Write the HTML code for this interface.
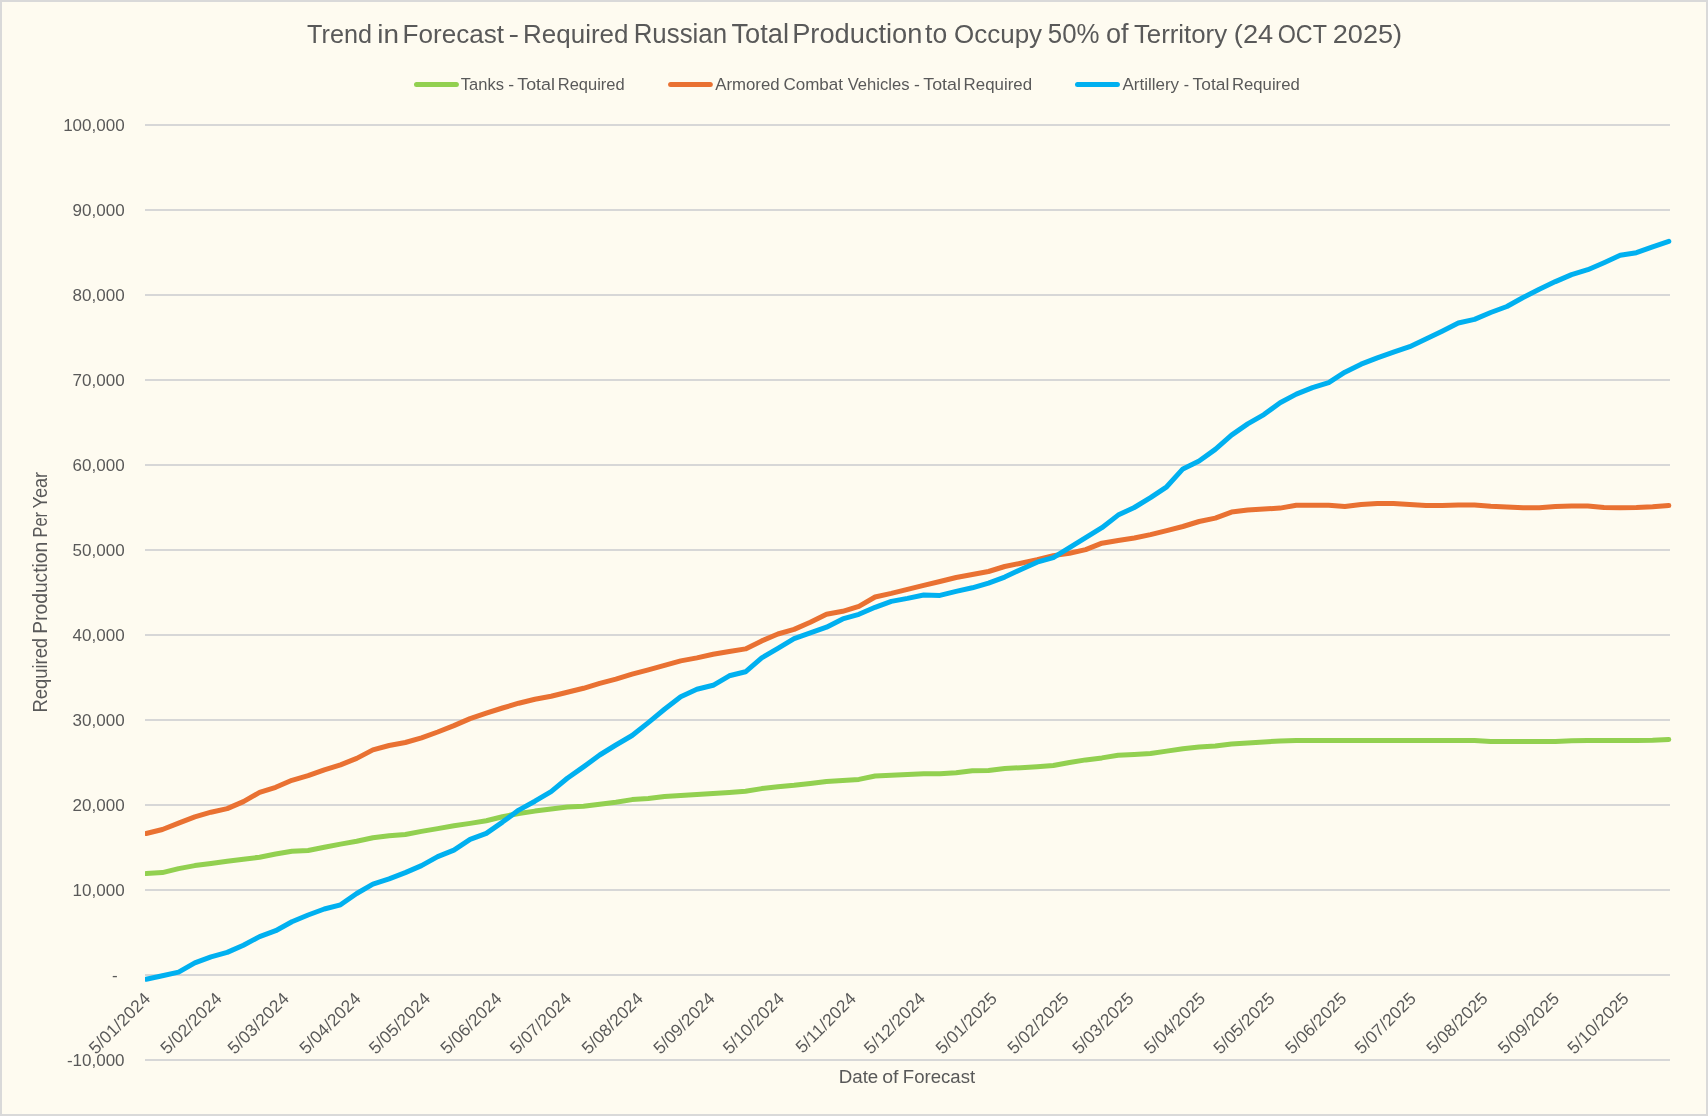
<!DOCTYPE html>
<html><head><meta charset="utf-8"><title>Trend in Forecast</title>
<style>
html,body{margin:0;padding:0;background:#FEFBF0;}
svg{display:block;will-change:transform;}
text{font-family:"Liberation Sans",sans-serif;fill:#595959;}
</style></head><body>
<svg width="1708" height="1116" viewBox="0 0 1708 1116">
<rect x="0" y="0" width="1708" height="1116" fill="#FEFBF0"/>
<rect x="1" y="1" width="1706" height="1114" fill="none" stroke="#D9D9D9" stroke-width="2"/>
<g id="title">
<text font-size="26.7" transform="translate(307.03,42.7) scale(0.9444,1)">Trend</text>
<text font-size="26.7" transform="translate(377.37,42.7) scale(1.0435,1)">in</text>
<text font-size="26.7" transform="translate(402.50,42.7) scale(0.9778,1)">Forecast</text>
<text font-size="26.7" transform="translate(508.62,42.7) scale(1.1846,1)">-</text>
<text font-size="26.7" transform="translate(523.11,42.7) scale(0.9727,1)">Required</text>
<text font-size="26.7" transform="translate(633.72,42.7) scale(0.9676,1)">Russian</text>
<text font-size="26.7" transform="translate(731.39,42.7) scale(1.0204,1)">Total</text>
<text font-size="26.7" transform="translate(792.20,42.7) scale(1.0202,1)">Production</text>
<text font-size="26.7" transform="translate(925.10,42.7) scale(0.9928,1)">to</text>
<text font-size="26.7" transform="translate(954.08,42.7) scale(0.9730,1)">Occupy</text>
<text font-size="26.7" transform="translate(1047.79,42.7) scale(0.9678,1)">50%</text>
<text font-size="26.7" transform="translate(1106.03,42.7) scale(1.0143,1)">of</text>
<text font-size="26.7" transform="translate(1133.92,42.7) scale(0.9671,1)">Territory</text>
<text font-size="26.7" transform="translate(1233.82,42.7) scale(1.0194,1)">(24</text>
<text font-size="26.7" transform="translate(1277.71,42.7) scale(0.8734,1)">OCT</text>
<text font-size="26.7" transform="translate(1332.73,42.7) scale(1.0161,1)">2025)</text>
</g>
<g id="legend">
<line x1="416.5" y1="84.5" x2="456.4" y2="84.5" stroke="#92D050" stroke-width="5" stroke-linecap="round"/>
<line x1="670.6" y1="84.5" x2="710.3" y2="84.5" stroke="#E97132" stroke-width="5" stroke-linecap="round"/>
<line x1="1077.5" y1="84.5" x2="1117.4" y2="84.5" stroke="#00B0F0" stroke-width="5" stroke-linecap="round"/>
<text font-size="17.0" transform="translate(460.81,89.9) scale(0.9711,1)">Tanks</text>
<text font-size="17.0" transform="translate(508.22,89.9) scale(1.0353,1)">-</text>
<text font-size="17.0" transform="translate(517.27,89.9) scale(1.0511,1)">Total</text>
<text font-size="17.0" transform="translate(557.74,89.9) scale(0.9714,1)">Required</text>
<text font-size="17.0" transform="translate(715.20,89.9) scale(0.9891,1)">Armored</text>
<text font-size="17.0" transform="translate(783.45,89.9) scale(0.9991,1)">Combat</text>
<text font-size="17.0" transform="translate(847.66,89.9) scale(0.9776,1)">Vehicles</text>
<text font-size="17.0" transform="translate(913.92,89.9) scale(1.0353,1)">-</text>
<text font-size="17.0" transform="translate(923.28,89.9) scale(1.0482,1)">Total</text>
<text font-size="17.0" transform="translate(963.61,89.9) scale(0.9925,1)">Required</text>
<text font-size="17.0" transform="translate(1122.40,89.9) scale(1.0018,1)">Artillery</text>
<text font-size="17.0" transform="translate(1183.69,89.9) scale(0.9412,1)">-</text>
<text font-size="17.0" transform="translate(1192.59,89.9) scale(1.0219,1)">Total</text>
<text font-size="17.0" transform="translate(1232.03,89.9) scale(0.9820,1)">Required</text>
</g>
<g id="grid">
<rect x="145" y="124" width="1525" height="2" fill="#D7D7D7"/>
<rect x="145" y="209" width="1525" height="2" fill="#D7D7D7"/>
<rect x="145" y="294" width="1525" height="2" fill="#D7D7D7"/>
<rect x="145" y="379" width="1525" height="2" fill="#D7D7D7"/>
<rect x="145" y="464" width="1525" height="2" fill="#D7D7D7"/>
<rect x="145" y="549" width="1525" height="2" fill="#D7D7D7"/>
<rect x="145" y="634" width="1525" height="2" fill="#D7D7D7"/>
<rect x="145" y="719" width="1525" height="2" fill="#D7D7D7"/>
<rect x="145" y="804" width="1525" height="2" fill="#D7D7D7"/>
<rect x="145" y="889" width="1525" height="2" fill="#D7D7D7"/>
<rect x="145" y="974" width="1525" height="2" fill="#D7D7D7"/>
<rect x="145" y="1059" width="1525" height="2" fill="#D7D7D7"/>
</g>
<g id="ylabels" font-size="17" text-anchor="end">
<text x="124.6" y="131.0">100,000</text>
<text x="124.6" y="216.0">90,000</text>
<text x="124.6" y="301.0">80,000</text>
<text x="124.6" y="386.0">70,000</text>
<text x="124.6" y="471.0">60,000</text>
<text x="124.6" y="556.0">50,000</text>
<text x="124.6" y="641.0">40,000</text>
<text x="124.6" y="726.0">30,000</text>
<text x="124.6" y="811.0">20,000</text>
<text x="124.6" y="896.0">10,000</text>
<text x="117.6" y="981.0">-</text>
<text x="124.6" y="1066.0">-10,000</text>
</g>
<g id="xlabels" font-size="17.3" letter-spacing="0.15" text-anchor="end">
<text transform="translate(151.3,999.6) rotate(-45)">5/01/2024</text>
<text transform="translate(223.0,999.6) rotate(-45)">5/02/2024</text>
<text transform="translate(290.1,999.6) rotate(-45)">5/03/2024</text>
<text transform="translate(361.8,999.6) rotate(-45)">5/04/2024</text>
<text transform="translate(431.3,999.6) rotate(-45)">5/05/2024</text>
<text transform="translate(503.0,999.6) rotate(-45)">5/06/2024</text>
<text transform="translate(572.4,999.6) rotate(-45)">5/07/2024</text>
<text transform="translate(644.2,999.6) rotate(-45)">5/08/2024</text>
<text transform="translate(715.9,999.6) rotate(-45)">5/09/2024</text>
<text transform="translate(785.3,999.6) rotate(-45)">5/10/2024</text>
<text transform="translate(857.1,999.6) rotate(-45)">5/11/2024</text>
<text transform="translate(926.5,999.6) rotate(-45)">5/12/2024</text>
<text transform="translate(998.2,999.6) rotate(-45)">5/01/2025</text>
<text transform="translate(1070.0,999.6) rotate(-45)">5/02/2025</text>
<text transform="translate(1134.8,999.6) rotate(-45)">5/03/2025</text>
<text transform="translate(1206.5,999.6) rotate(-45)">5/04/2025</text>
<text transform="translate(1275.9,999.6) rotate(-45)">5/05/2025</text>
<text transform="translate(1347.7,999.6) rotate(-45)">5/06/2025</text>
<text transform="translate(1417.1,999.6) rotate(-45)">5/07/2025</text>
<text transform="translate(1488.8,999.6) rotate(-45)">5/08/2025</text>
<text transform="translate(1560.5,999.6) rotate(-45)">5/09/2025</text>
<text transform="translate(1630.0,999.6) rotate(-45)">5/10/2025</text>
</g>
<g id="xtitle">
<text font-size="18.9" transform="translate(838.71,1082.7) scale(0.9920,1)">Date</text>
<text font-size="18.9" transform="translate(882.23,1082.7) scale(1.0333,1)">of</text>
<text font-size="18.9" transform="translate(902.82,1082.7) scale(0.9840,1)">Forecast</text>
</g>
<g id="ytitle">
<g transform="translate(47.2,711.7) rotate(-90)">
<text font-size="19.5" transform="translate(-0.82,0) scale(0.9438,1)">Required</text>
<text font-size="19.5" transform="translate(78.02,0) scale(0.9856,1)">Production</text>
<text font-size="19.5" transform="translate(174.13,0) scale(0.8456,1)">Per</text>
<text font-size="19.5" transform="translate(203.13,0) scale(0.9325,1)">Year</text>
</g>
</g>
<clipPath id="pc"><rect x="145" y="100" width="1540" height="980"/></clipPath>
<g id="series" clip-path="url(#pc)" fill="none" stroke-width="5" stroke-linejoin="round" stroke-linecap="round">
<path d="M146.2,873.6 L162.4,872.6 L178.6,868.6 L194.8,865.6 L211.0,863.4 L227.2,861.2 L243.4,859.2 L259.6,857.2 L275.7,854.0 L291.9,851.3 L308.1,850.5 L324.3,847.3 L340.5,844.1 L356.7,841.3 L372.9,837.7 L389.1,835.7 L405.3,834.5 L421.5,831.4 L437.7,828.6 L453.9,825.8 L470.1,823.4 L486.3,820.7 L502.5,816.7 L518.7,813.5 L534.9,811.1 L551.1,809.1 L567.3,807.1 L583.5,806.2 L599.7,804.2 L615.9,802.2 L632.1,799.6 L648.3,798.6 L664.5,796.6 L680.7,795.4 L696.9,794.4 L713.1,793.4 L729.3,792.4 L745.5,791.2 L761.7,788.6 L777.9,786.8 L794.1,785.3 L810.3,783.4 L826.5,781.4 L842.7,780.4 L858.9,779.4 L875.1,776.0 L891.3,775.2 L907.5,774.5 L923.7,773.7 L939.9,773.7 L956.1,772.7 L972.3,770.7 L988.5,770.5 L1004.7,768.5 L1020.9,767.7 L1037.1,766.7 L1053.3,765.5 L1069.5,762.5 L1085.7,759.9 L1101.9,757.9 L1118.1,755.3 L1134.3,754.4 L1150.5,753.5 L1166.7,751.1 L1182.9,748.7 L1199.1,746.9 L1215.3,745.9 L1231.5,743.9 L1247.7,742.9 L1263.9,741.9 L1280.1,741.1 L1296.3,740.5 L1312.5,740.5 L1328.7,740.5 L1344.9,740.5 L1361.1,740.5 L1377.3,740.5 L1393.5,740.5 L1409.7,740.5 L1425.9,740.5 L1442.1,740.5 L1458.3,740.5 L1474.5,740.5 L1490.7,741.6 L1506.9,741.5 L1523.1,741.5 L1539.3,741.5 L1555.4,741.5 L1571.6,740.8 L1587.8,740.5 L1604.0,740.5 L1620.2,740.5 L1636.4,740.5 L1652.6,740.3 L1668.8,739.5" stroke="#92D050"/>
<path d="M146.2,833.5 L162.4,829.5 L178.6,823.1 L194.8,816.9 L211.0,812.2 L227.2,808.6 L243.4,801.6 L259.6,792.3 L275.7,787.3 L291.9,780.3 L308.1,775.7 L324.3,769.8 L340.5,764.8 L356.7,758.4 L372.9,749.9 L389.1,745.5 L405.3,742.5 L421.5,737.9 L437.7,732.0 L453.9,725.6 L470.1,718.6 L486.3,713.2 L502.5,708.0 L518.7,703.2 L534.9,699.3 L551.1,696.3 L567.3,692.3 L583.5,688.3 L599.7,683.3 L615.9,679.2 L632.1,674.2 L648.3,669.8 L664.5,665.4 L680.7,660.9 L696.9,657.9 L713.1,654.3 L729.3,651.5 L745.5,648.9 L761.7,640.9 L777.9,634.0 L794.1,629.4 L810.3,622.3 L826.5,614.3 L842.7,611.3 L858.9,606.3 L875.1,597.0 L891.3,593.4 L907.5,589.4 L923.7,585.4 L939.9,581.5 L956.1,577.5 L972.3,574.5 L988.5,571.5 L1004.7,566.5 L1020.9,563.2 L1037.1,559.6 L1053.3,555.6 L1069.5,553.2 L1085.7,549.6 L1101.9,543.2 L1118.1,540.5 L1134.3,538.0 L1150.5,534.6 L1166.7,530.6 L1182.9,526.5 L1199.1,521.5 L1215.3,518.1 L1231.5,512.1 L1247.7,510.1 L1263.9,509.1 L1280.1,508.1 L1296.3,505.2 L1312.5,505.2 L1328.7,505.2 L1344.9,506.4 L1361.1,504.6 L1377.3,503.6 L1393.5,503.6 L1409.7,504.5 L1425.9,505.5 L1442.1,505.5 L1458.3,505.1 L1474.5,505.1 L1490.7,506.3 L1506.9,506.9 L1523.1,507.7 L1539.3,507.7 L1555.4,506.5 L1571.6,506.1 L1587.8,506.1 L1604.0,507.5 L1620.2,507.7 L1636.4,507.5 L1652.6,506.7 L1668.8,505.5" stroke="#E97132"/>
<path d="M146.2,979.2 L162.4,975.7 L178.6,972.1 L194.8,962.9 L211.0,956.8 L227.2,952.4 L243.4,945.2 L259.6,936.6 L275.7,930.7 L291.9,921.7 L308.1,915.0 L324.3,909.0 L340.5,904.8 L356.7,893.5 L372.9,884.1 L389.1,878.9 L405.3,872.6 L421.5,865.6 L437.7,856.6 L453.9,850.1 L470.1,839.4 L486.3,833.4 L502.5,822.1 L518.7,810.1 L534.9,801.2 L551.1,791.6 L567.3,778.3 L583.5,766.9 L599.7,755.0 L615.9,745.0 L632.1,735.5 L648.3,722.6 L664.5,709.2 L680.7,696.7 L696.9,689.3 L713.1,685.3 L729.3,675.8 L745.5,671.8 L761.7,657.9 L777.9,648.3 L794.1,638.6 L810.3,632.8 L826.5,627.2 L842.7,618.9 L858.9,614.3 L875.1,607.3 L891.3,601.4 L907.5,598.4 L923.7,595.0 L939.9,595.4 L956.1,591.4 L972.3,587.8 L988.5,583.1 L1004.7,577.1 L1020.9,569.5 L1037.1,562.2 L1053.3,557.6 L1069.5,547.6 L1085.7,537.7 L1101.9,527.7 L1118.1,515.1 L1134.3,507.5 L1150.5,497.6 L1166.7,486.8 L1182.9,468.9 L1199.1,461.0 L1215.3,449.4 L1231.5,435.1 L1247.7,423.9 L1263.9,414.6 L1280.1,402.7 L1296.3,394.1 L1312.5,387.7 L1328.7,382.7 L1344.9,372.2 L1361.1,364.2 L1377.3,357.8 L1393.5,352.1 L1409.7,346.7 L1425.9,339.1 L1442.1,331.2 L1458.3,323.0 L1474.5,319.4 L1490.7,312.5 L1506.9,306.5 L1523.1,297.5 L1539.3,289.2 L1555.4,281.6 L1571.6,274.6 L1587.8,269.7 L1604.0,262.7 L1620.2,255.3 L1636.4,252.7 L1652.6,246.8 L1668.8,241.4" stroke="#00B0F0"/>
</g>
</svg>
</body></html>
